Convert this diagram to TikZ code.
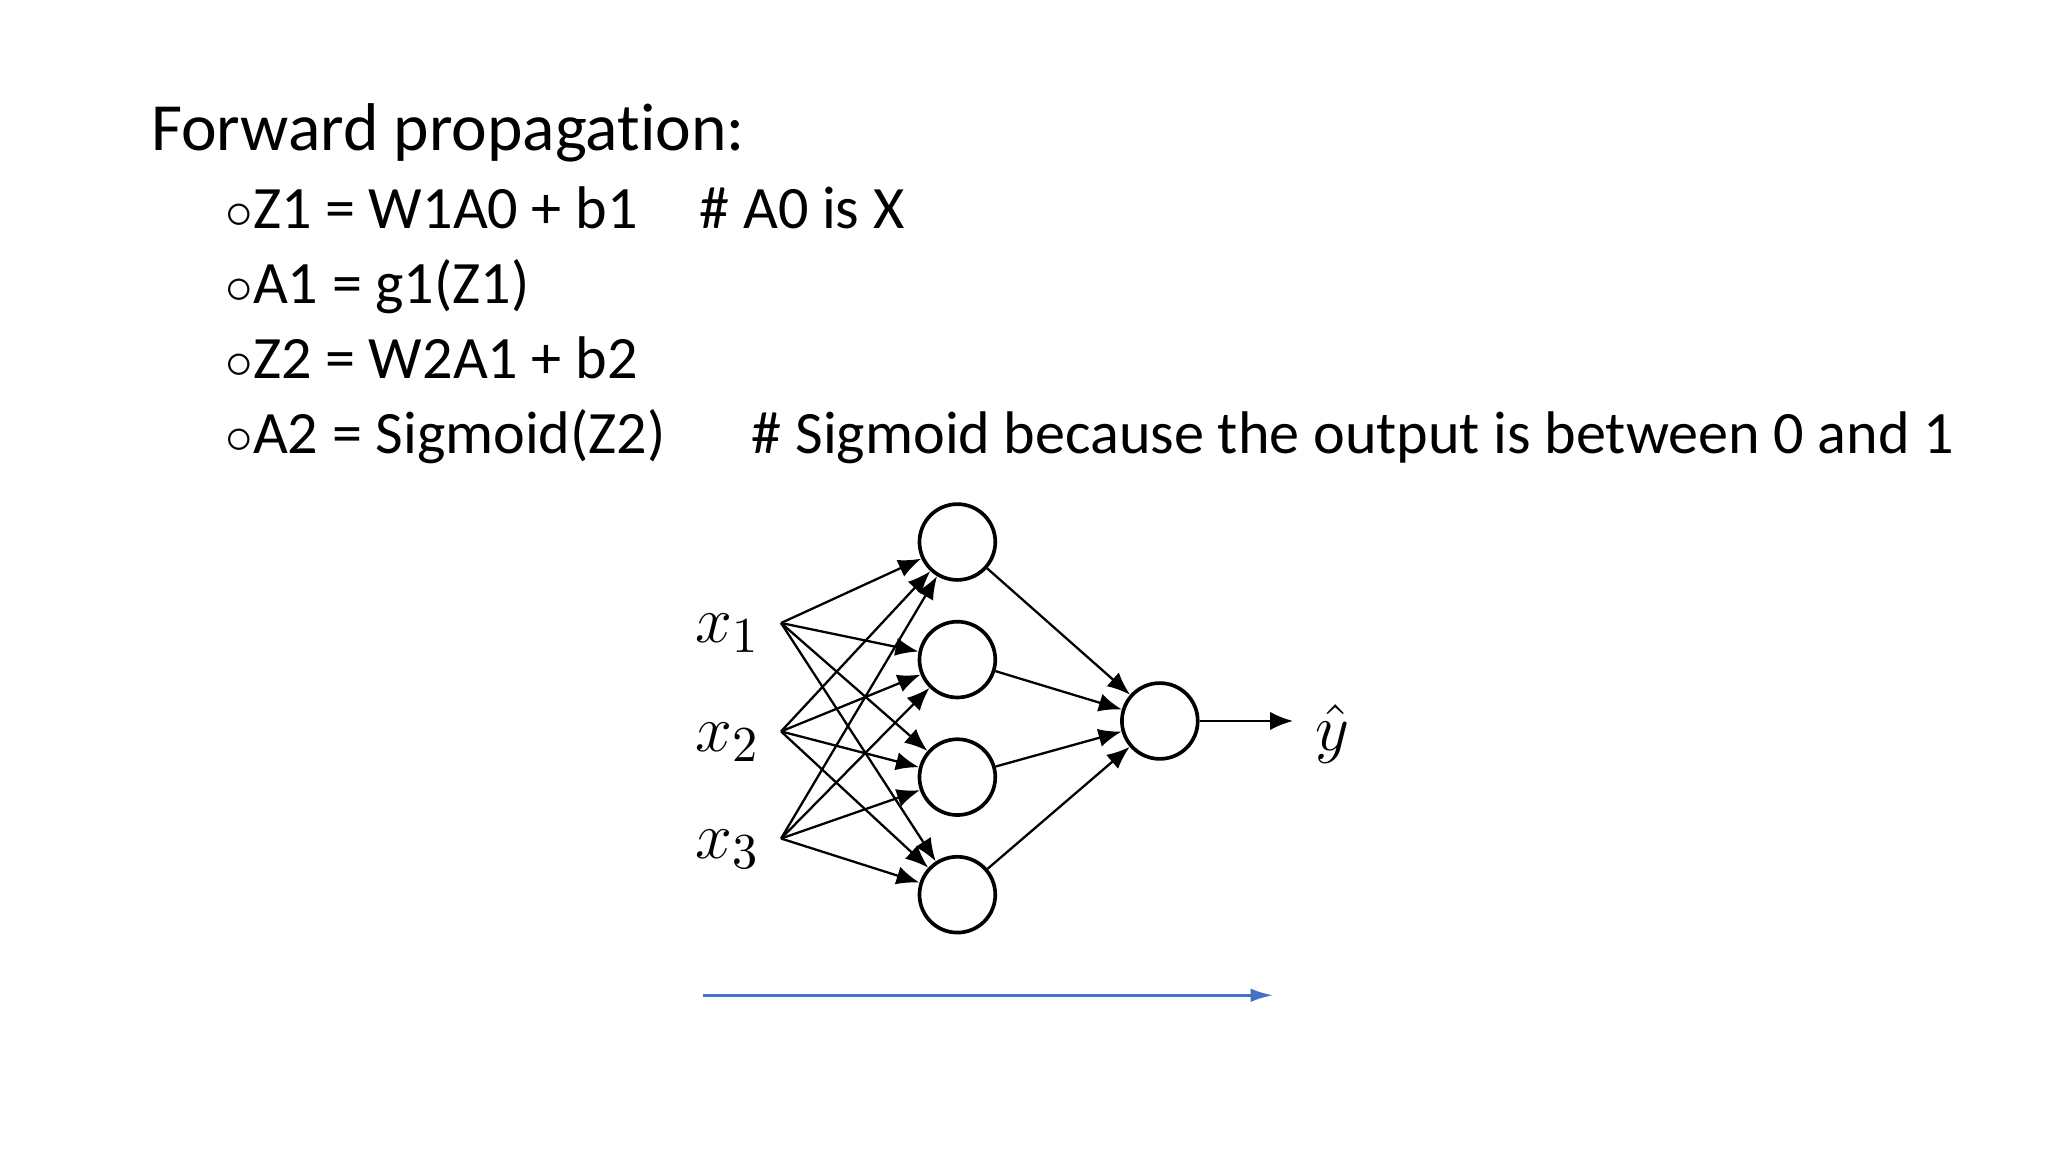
\documentclass[tikz,border=0pt]{standalone}
\usepackage{fontspec}
\setmainfont[Ligatures=NoCommon]{Carlito}
\usetikzlibrary{arrows.meta}
\begin{document}
\begin{tikzpicture}[x=0.01cm,y=-0.01cm,
  neuron/.style={circle,draw,thick,minimum size=0.58cm,inner sep=0pt},
  conn/.style={-{Latex[length=5pt,width=4pt]},line width=0.5pt},
  bl/.style={anchor=base west,inner sep=0pt,font=\fontsize{13.1}{16}\selectfont}]
\useasboundingbox (0,0) rectangle (1568,882);
\node[anchor=base west,inner sep=0pt,font=\fontsize{14.7}{18}\selectfont] (title) at (115,115) {Forward propagation:};
\node[bl] (l1) at (172,175) {$\circ$Z1 = W1A0 + b1};
\node[bl] (c1) at (535,175) {\# A0 is X};
\node[bl] (l2) at (172,232) {$\circ$A1 = g1(Z1)};
\node[bl] (l3) at (172,290) {$\circ$Z2 = W2A1 + b2};
\node[bl] (l4) at (172,347) {$\circ$A2 = Sigmoid(Z2)};
\node[bl] (c4) at (575,347) {\# Sigmoid because the output is between 0 and 1};
\foreach \i/\y in {1/415,2/505,3/595,4/685} \node[neuron] (h\i) at (733,\y) {};
\node[neuron] (o) at (888,552) {};
\foreach \i/\y in {1/485,2/568,3/650} {
  \node[font=\fontsize{15}{18}\selectfont] (x\i) at (557,\y) {$x_{\i}$};
  \coordinate (s\i) at (598,\y-8);
}
\foreach \i in {1,2,3} \foreach \j in {1,2,3,4} \draw[conn] (s\i) -- (h\j);
\foreach \j in {1,2,3,4} \draw[conn] (h\j) -- (o);
\coordinate (ye) at (990,552);
\draw[conn] (o) -- (ye);
\node[font=\fontsize{15}{18}\selectfont] (y) at (1020,562) {$\hat{y}$};
\coordinate (b0) at (538,762); \coordinate (b1) at (975,762);
\draw[-{Latex[length=5pt,width=3pt]},color={rgb,255:red,68;green,114;blue,196},line width=0.7pt] (b0) -- (b1);
\end{tikzpicture}
\end{document}
